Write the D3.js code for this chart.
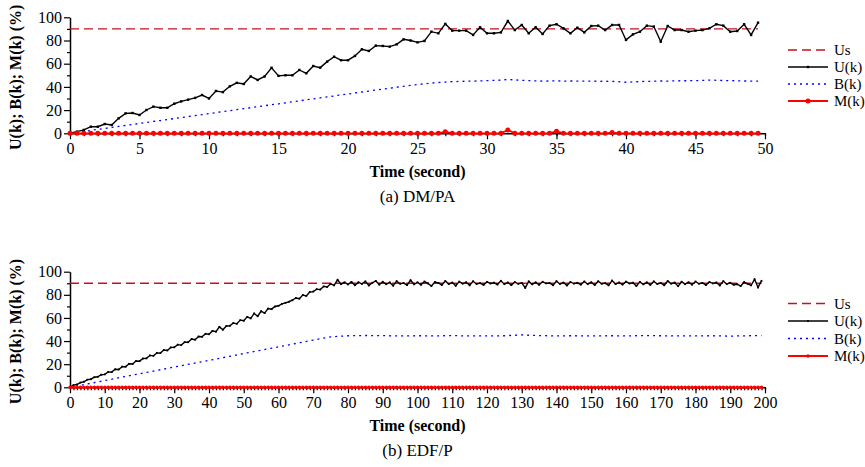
<!DOCTYPE html>
<html>
<head>
<meta charset="utf-8">
<script src="https://cdn.jsdelivr.net/npm/d3@7"></script>
<style>
  body { margin: 0; background: #fff; }
  svg { display: block; }
  text { font-family: "Liberation Serif", "Times New Roman", serif; fill: #000; }
</style>
</head>
<body>
<svg id="chart" width="865" height="467"></svg>
<script>
// ---- data ----
const seriesNames = ["Us", "U(k)", "B(k)", "M(k)"];
const usLevel = 90;

// (a) DM/PA, sampled every 0.5 s from 0 to 49.5
const dmStep = 0.5;
const dmU = [
  0, 1.4, 2.9, 5.7, 5.7, 8.0, 7.2, 12.9, 17.2, 17.5,
  15.8, 20.1, 23.0, 22.0, 22.0, 25.5, 27.5, 29.0, 30.5, 33.0,
  30.0, 36.5, 35.5, 40.5, 43.5, 42.5, 49.0, 46.0, 49.0, 56.5,
  49.5, 50.0, 50.0, 54.6, 51.7, 58.0, 56.6, 61.8, 66.0, 63.0,
  63.0, 66.7, 72.4, 71.0, 75.6, 75.3, 74.7, 76.7, 81.0, 80.0,
  78.4, 79.6, 87.6, 86.2, 94.3, 88.5, 88.5, 88.5, 84.8, 91.4,
  86.2, 86.2, 87.0, 96.8, 89.0, 93.4, 86.2, 91.4, 85.6, 92.8,
  94.0, 90.5, 86.2, 91.0, 87.0, 92.5, 92.8, 89.0, 93.4, 93.4,
  80.5, 85.3, 87.6, 92.8, 92.0, 79.0, 92.5, 89.0, 89.0, 87.6,
  88.5, 89.0, 90.5, 94.0, 92.8, 87.6, 88.2, 94.0, 84.8, 95.4
];
const dmB = [
  0, 0.8, 1.7, 2.5, 3.4, 4.2, 5.1, 5.9, 6.8, 7.6,
  8.5, 9.3, 10.2, 11.0, 11.9, 12.7, 13.6, 14.4, 15.3, 16.1,
  17.0, 17.8, 18.7, 19.5, 20.4, 21.2, 22.1, 22.9, 23.8, 24.6,
  25.4, 26.3, 27.1, 28.0, 28.8, 29.7, 30.5, 31.4, 32.2, 33.1,
  33.9, 34.7, 35.6, 36.4, 37.3, 38.1, 38.9, 39.7, 40.5, 41.3,
  42.0, 42.7, 43.3, 43.8, 44.2, 44.5, 44.7, 44.9, 45.0, 45.2,
  45.4, 45.6, 45.8, 46.5, 46.0, 45.7, 45.4, 45.2, 45.0, 45.1,
  45.2, 45.0, 45.1, 45.0, 44.9, 45.0, 44.8, 44.9, 44.7, 44.5,
  44.0, 44.3, 44.6, 44.8, 44.9, 45.1, 45.0, 45.2, 45.3, 45.3,
  45.4, 45.6, 45.9, 45.7, 45.5, 45.4, 45.2, 45.1, 45.0, 45.0
];
const dmM = [
  0, 0, 0, 0, 0, 0, 0, 0, 0, 0,
  0, 0, 0, 0, 0, 0, 0, 0, 0, 0,
  0, 0, 0, 0, 0, 0, 0, 0, 0, 0,
  0, 0, 0, 0, 0, 0, 0, 0, 0, 0,
  0, 0, 0, 0, 0, 0, 0, 0, 0, 0,
  0, 0, 0, 0, 1.4, 0, 0, 0, 0, 0,
  0, 0, 0, 2.9, 0, 0, 0, 0, 0, 0,
  1.8, 0, 0, 0, 0, 0, 0, 0, 0.6, 0,
  0, 0, 0, 0, 0, 0, 0, 0, 0, 0,
  0, 0, 0, 0, 0, 0, 0, 0, 0, 0
];
const dmMajorTicks = [0, 5, 10, 15, 20, 25, 30, 35, 40, 45, 50];

// (b) EDF/P, sampled every 1 s from 0 to 199
const edfStep = 1;
const edfU = [
  0, 1.9, 2.4, 4.1, 4.8, 6.6, 7.0, 8.7, 9.1, 10.9,
  11.2, 13.3, 13.1, 15.6, 15.4, 17.9, 17.8, 20.3, 20.1, 22.7,
  22.6, 24.9, 25.0, 27.6, 27.2, 29.8, 29.6, 32.3, 31.9, 34.5,
  34.6, 36.9, 36.5, 39.1, 39.0, 41.8, 41.2, 43.9, 43.7, 46.3,
  45.9, 48.8, 48.1, 52.3, 49.8, 53.0, 53.2, 55.6, 54.9, 58.1,
  57.6, 60.9, 59.6, 63.9, 61.5, 65.8, 64.2, 68.1, 67.6, 69.9,
  70.5, 72.2, 73.1, 74.0, 75.3, 77.3, 76.7, 79.8, 79.1, 82.5,
  82.8, 84.9, 84.5, 87.3, 86.8, 89.5, 88.2, 93.0, 89.2, 90.8,
  89.0, 91.2, 88.3, 90.9, 89.5, 91.6, 88.1, 90.4, 92.0, 88.8,
  91.3, 89.2, 90.7, 87.9, 91.8, 89.6, 90.2, 88.4, 92.6, 89.1,
  90.8, 88.7, 91.5, 89.9, 87.6, 91.1, 90.3, 88.5, 91.9, 89.3,
  90.6, 87.8, 91.4, 89.7, 90.9, 88.2, 91.7, 89.4, 90.1, 88.6,
  91.2, 89.8, 90.5, 88.9, 92.1, 89.2, 90.7, 88.4, 91.0, 89.5,
  90.3, 86.0, 91.6, 89.1, 90.8, 88.7, 91.3, 89.9, 90.2, 88.3,
  91.8, 89.4, 90.6, 88.1, 91.1, 89.7, 90.4, 88.8, 91.5, 89.2,
  90.9, 88.5, 91.7, 89.6, 90.1, 88.2, 92.3, 89.3, 90.7, 88.9,
  91.4, 89.8, 90.5, 87.7, 91.2, 89.1, 90.8, 88.6, 91.6, 89.4,
  90.2, 88.3, 91.9, 89.7, 90.6, 87.5, 91.3, 89.2, 90.9, 88.8,
  91.5, 89.6, 90.3, 88.4, 91.1, 89.9, 90.7, 88.1, 91.8, 89.3,
  90.4, 88.7, 89.2, 87.6, 91.0, 89.5, 88.2, 93.5, 86.4, 92.1
];
const edfBTimes = [0, 5, 10, 15, 20, 25, 30, 35, 40, 45, 50, 55, 60, 65, 70, 75, 80, 85, 90, 95,
  100, 105, 110, 115, 120, 125, 130, 135, 140, 145, 150, 155, 160, 165, 170, 175, 180, 185, 190, 195, 199];
const edfB = [0, 2.9, 5.8, 8.8, 11.7, 14.6, 17.5, 20.4, 23.3, 26.2, 29.2, 32.1, 35.0, 37.9, 40.9, 43.6, 44.6, 44.8, 44.7, 44.4,
  44.6, 44.5, 44.7, 44.4, 44.5, 44.6, 45.3, 44.7, 44.5, 44.6, 44.4, 44.6, 44.5, 44.7, 44.6, 44.4, 44.5, 44.6, 44.3, 44.6, 44.7];
const edfM = [
  0, 0, 0, 0, 0, 0, 0, 0, 0, 0, 0, 0, 0, 0, 0, 0, 0, 0, 0, 0,
  0, 0, 0, 0, 0, 0, 0, 0, 0, 0, 0, 0, 0, 0, 0, 0, 0, 0, 0, 0,
  0, 0, 0, 0, 0, 0, 0, 0, 0, 0, 0, 0, 0, 0, 0, 0, 0, 0, 0, 0,
  0, 0, 0, 0, 0, 0, 0, 0, 0, 0, 0, 0, 0, 0, 0, 0, 0, 0, 0, 0,
  0, 0, 0, 0, 0, 0, 0, 0, 0, 0, 0, 0, 0, 0, 0, 0, 0, 0, 0, 0,
  0, 0, 0, 0, 0, 0, 0, 0, 0, 0, 0, 0, 0, 0, 0, 0, 0, 0, 0, 0,
  0, 0, 0, 0, 0, 0, 0, 0, 0, 0, 0, 0, 0, 0, 0, 0, 0, 0, 0, 0,
  0, 0, 0, 0, 0, 0, 0, 0, 0, 0, 0, 0, 0, 0, 0, 0, 0, 0, 0, 0,
  0, 0, 0, 0, 0, 0, 0, 0, 0, 0, 0, 0, 0, 0, 0, 0, 0, 0, 0, 0,
  0, 0, 0, 0, 0, 0, 0, 0, 0, 0, 0, 0, 0, 0, 0, 0, 0, 0, 0, 0
];
const edfMajorTicks = [0, 10, 20, 30, 40, 50, 60, 70, 80, 90, 100, 110, 120, 130, 140, 150, 160, 170, 180, 190, 200];

const yMajorTicks = [0, 20, 40, 60, 80, 100];
const yMinorTicks = [10, 30, 50, 70, 90];

// ---- drawing ----
const svg = d3.select("#chart");
const colors = { us: "#c0141e", u: "#000", b: "#0000ff", m: "#ff0000" };

function drawPanel(p) {
  const x = d3.scaleLinear().domain([0, p.xMax]).range([70, 765]);
  const y = d3.scaleLinear().domain([0, 100]).range([p.y0, p.y100]);
  const g = svg.append("g");

  const times = p.u.map((d, i) => i * p.step);
  const uPts = p.u.map((v, i) => [times[i], v]);
  const mPts = p.m.map((v, i) => [times[i], v]);
  const bPts = p.b.map((v, i) => [p.bTimes ? p.bTimes[i] : times[i], v]);
  const lastT = times[times.length - 1];

  // axes (minor ticks first, then the labelled ones)
  const minorX = d3.range(0, p.xMax + 0.001, p.minorStep);
  g.append("g").attr("transform", `translate(0,${p.y0})`)
    .call(d3.axisBottom(x).tickValues(minorX).tickSize(3).tickFormat("").tickSizeOuter(0))
    .call(a => a.select(".domain").remove());
  g.append("g").attr("transform", `translate(0,${p.y0})`)
    .call(d3.axisBottom(x).tickValues(p.majorX).tickSize(6).tickSizeOuter(0).tickPadding(3));
  g.append("g").attr("transform", "translate(70,0)")
    .call(d3.axisLeft(y).tickValues(yMinorTicks).tickSize(3).tickFormat("").tickSizeOuter(0))
    .call(a => a.select(".domain").remove());
  g.append("g").attr("transform", "translate(70,0)")
    .call(d3.axisLeft(y).tickValues(yMajorTicks).tickSize(6).tickSizeOuter(0).tickPadding(2));
  g.selectAll(".domain").attr("stroke", "#000").attr("stroke-width", 1.5);
  g.selectAll(".tick line").attr("stroke", "#000").attr("stroke-width", 1.2);
  g.selectAll(".tick text").attr("font-size", 16);

  const line = d3.line().x(d => x(d[0])).y(d => y(d[1]));

  // Us threshold
  g.append("path").datum([[0, usLevel], [lastT, usLevel]])
    .attr("d", line).attr("fill", "none").attr("stroke", colors.us)
    .attr("stroke-width", 1.3).attr("stroke-dasharray", "9,5");

  // B(k)
  g.append("path").datum(bPts)
    .attr("d", line).attr("fill", "none").attr("stroke", colors.b)
    .attr("stroke-width", 1.3).attr("stroke-dasharray", "2,4");

  // U(k)
  g.append("path").datum(uPts)
    .attr("d", line).attr("fill", "none").attr("stroke", colors.u).attr("stroke-width", 1.4);
  g.selectAll(".um").data(uPts).join("rect")
    .attr("x", d => x(d[0]) - p.uMark / 2).attr("y", d => y(d[1]) - p.uMark / 2)
    .attr("width", p.uMark).attr("height", p.uMark).attr("fill", colors.u);

  // M(k)
  g.append("path").datum(mPts)
    .attr("d", line).attr("fill", "none").attr("stroke", colors.m).attr("stroke-width", 1.8);
  g.selectAll(".mm").data(mPts).join("circle")
    .attr("cx", d => x(d[0])).attr("cy", d => y(d[1])).attr("r", p.mR).attr("fill", colors.m);

  // axis titles and caption
  const midX = (70 + 765) / 2;
  g.append("text").attr("x", midX).attr("y", p.y0 + 44)
    .attr("text-anchor", "middle").attr("font-size", 16).attr("font-weight", "bold")
    .text("Time (second)");
  g.append("text").attr("x", midX).attr("y", p.y0 + 69)
    .attr("text-anchor", "middle").attr("font-size", 17)
    .text(p.caption);
  g.append("text")
    .attr("transform", `translate(21,${(p.y0 + p.y100) / 2 + 2}) rotate(-90)`)
    .attr("text-anchor", "middle").attr("font-size", 16).attr("font-weight", "bold")
    .text("U(k); B(k); M(k) (%)");

  // legend
  const styles = [
    { stroke: colors.us, dash: "9,5", w: 1.3 },
    { stroke: colors.u, dash: null, w: 1.4, rect: true },
    { stroke: colors.b, dash: "2,4", w: 1.3 },
    { stroke: colors.m, dash: null, w: 1.8, dot: true }
  ];
  seriesNames.forEach((name, i) => {
    const ly = p.legY + i * p.legGap;
    const s = styles[i];
    g.append("line").attr("x1", 788).attr("x2", 828).attr("y1", ly).attr("y2", ly)
      .attr("stroke", s.stroke).attr("stroke-width", s.w)
      .attr("stroke-dasharray", s.dash);
    if (s.rect) g.append("rect").attr("x", 808 - p.uMark / 2).attr("y", ly - p.uMark / 2)
      .attr("width", p.uMark).attr("height", p.uMark).attr("fill", colors.u);
    if (s.dot) g.append("circle").attr("cx", 808).attr("cy", ly).attr("r", p.mR).attr("fill", colors.m);
    g.append("text").attr("x", 834).attr("y", ly).attr("dy", "0.35em")
      .attr("font-size", 15).text(name);
  });
}

drawPanel({
  u: dmU, b: dmB, m: dmM, step: dmStep, xMax: 50,
  majorX: dmMajorTicks, minorStep: 1,
  y0: 133.3, y100: 17.3, caption: "(a) DM/PA",
  legY: 50, legGap: 17, uMark: 2.4, mR: 2.5
});
drawPanel({
  u: edfU, b: edfB, bTimes: edfBTimes, m: edfM, step: edfStep, xMax: 200,
  majorX: edfMajorTicks, minorStep: 1,
  y0: 387.3, y100: 271.7, caption: "(b) EDF/P",
  legY: 303.5, legGap: 17.5, uMark: 1.8, mR: 1.7
});
</script>
</body>
</html>
